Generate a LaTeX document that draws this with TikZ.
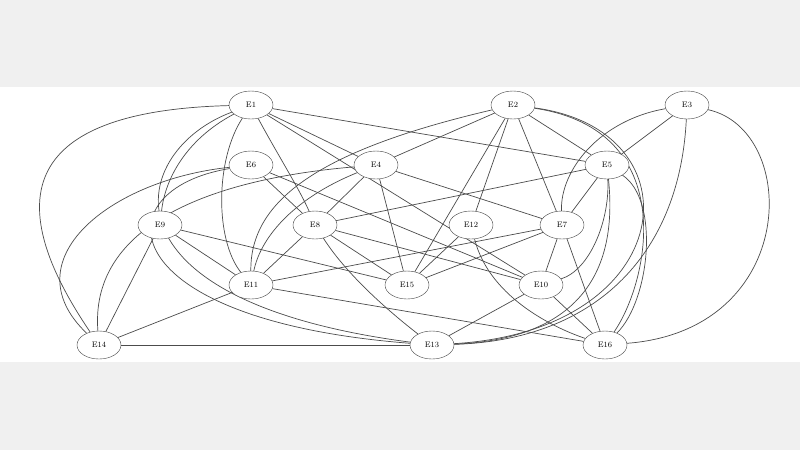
\documentclass[tikz,border=0pt]{standalone}
\usetikzlibrary{shapes.geometric}
\pgfdeclarelayer{bgl}
\pgfdeclarelayer{edl}
\pgfsetlayers{bgl,edl,main}
\begin{document}
\begin{tikzpicture}[x=1pt,y=-1pt,
  nd/.style={draw=black!75,ellipse,minimum width=44pt,minimum height=28pt,inner sep=0pt,font=\footnotesize,fill=white},
  ln/.style={draw=black!70,line width=0.7pt}]
\useasboundingbox (0,0) rectangle (800,450);
\begin{pgfonlayer}{bgl}
\fill[gray!12] (0,0) rectangle (800,450);
\fill[white] (0,87) rectangle (800,362);
\end{pgfonlayer}
\begin{scope}[every node/.style={nd}]
\node (E1) at (251,105) {E1};
\node (E2) at (513,105) {E2};
\node (E3) at (687,105) {E3};
\node (E6) at (251,165) {E6};
\node (E4) at (376,165) {E4};
\node (E5) at (607,165) {E5};
\node (E9) at (160,225) {E9};
\node (E8) at (315,225) {E8};
\node (E12) at (471,225) {E12};
\node (E7) at (562,225) {E7};
\node (E11) at (251,285) {E11};
\node (E15) at (407,285) {E15};
\node (E10) at (541,285) {E10};
\node (E14) at (99,345) {E14};
\node (E13) at (432,345) {E13};
\node (E16) at (605,345) {E16};
\end{scope}
\begin{pgfonlayer}{edl}
\path[ln] (E1) .. controls (60,110) and (-20,170) .. (E14);
\path[ln] (E1) .. controls (130,150) and (90,300) .. (E13);
\path[ln] (E1) .. controls (185,140) and (165,180) .. (E9);
\path[ln] (E1) .. controls (215,160) and (215,240) .. (E11);
\path[ln] (E1) .. controls (275,150) and (300,190) .. (E8);
\path[ln] (E1) -- (E4);
\path[ln] (E1) -- (E5);
\path[ln] (E1) -- (E10);
\path[ln] (E2) .. controls (320,150) and (250,200) .. (E11);
\path[ln] (E2) -- (E4);
\path[ln] (E2) -- (E15);
\path[ln] (E2) -- (E12);
\path[ln] (E2) -- (E7);
\path[ln] (E2) -- (E5);
\path[ln] (E2) .. controls (680,130) and (650,280) .. (E16);
\path[ln] (E2) .. controls (700,130) and (680,330) .. (E13);
\path[ln] (E3) .. controls (600,120) and (560,170) .. (E7);
\path[ln] (E3) -- (E5);
\path[ln] (E3) .. controls (680,250) and (600,340) .. (E13);
\path[ln] (E3) .. controls (800,130) and (800,330) .. (E16);
\path[ln] (E6) .. controls (110,180) and (10,260) .. (E14);
\path[ln] (E6) -- (E8);
\path[ln] (E6) -- (E10);
\path[ln] (E6) .. controls (100,190) and (110,320) .. (E13);
\path[ln] (E4) .. controls (200,180) and (90,230) .. (E14);
\path[ln] (E4) -- (E8);
\path[ln] (E4) .. controls (290,200) and (260,240) .. (E11);
\path[ln] (E4) -- (E15);
\path[ln] (E4) -- (E7);
\path[ln] (E5) -- (E8);
\path[ln] (E5) -- (E7);
\path[ln] (E5) .. controls (610,220) and (590,270) .. (E10);
\path[ln] (E5) .. controls (620,290) and (560,340) .. (E13);
\path[ln] (E5) .. controls (660,200) and (650,300) .. (E16);
\path[ln] (E9) -- (E11);
\path[ln] (E9) -- (E14);
\path[ln] (E9) -- (E15);
\path[ln] (E8) -- (E11);
\path[ln] (E8) -- (E15);
\path[ln] (E8) -- (E10);
\path[ln] (E8) .. controls (350,280) and (400,320) .. (E13);
\path[ln] (E12) -- (E15);
\path[ln] (E12) .. controls (490,300) and (560,330) .. (E16);
\path[ln] (E7) -- (E11);
\path[ln] (E7) -- (E15);
\path[ln] (E7) -- (E10);
\path[ln] (E7) -- (E16);
\path[ln] (E11) -- (E14);
\path[ln] (E11) -- (E16);
\path[ln] (E14) -- (E13);
\path[ln] (E10) -- (E13);
\path[ln] (E10) -- (E16);
\end{pgfonlayer}
\end{tikzpicture}
\end{document}
